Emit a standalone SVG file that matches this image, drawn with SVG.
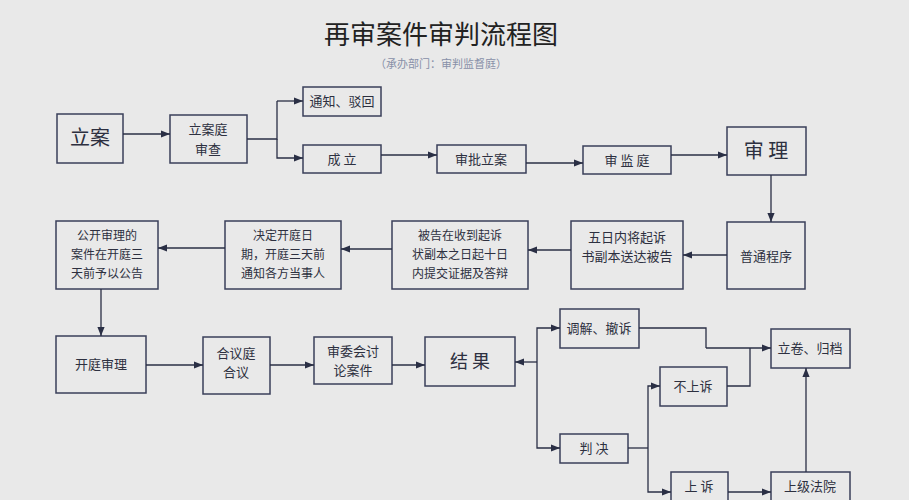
<svg xmlns="http://www.w3.org/2000/svg" width="909" height="500" viewBox="0 0 909 500">
<defs>
<marker id="a" viewBox="0 0 10 10" refX="10" refY="5" markerWidth="7" markerHeight="7" orient="auto"><path d="M0,1 L10,5 L0,9 z" fill="#2a2f45"/></marker>
<style>
.b{fill:#e9e9e9;stroke:#3a3f5a;stroke-width:1.5}
text{font-family:"Noto Sans CJK SC","Liberation Serif",serif;fill:#2d3040;text-anchor:middle;font-size:13px}
.s{font-size:12px}
.l{fill:none;stroke:#2a2f45;stroke-width:1.3;marker-end:url(#a)}
.n{fill:none;stroke:#2a2f45;stroke-width:1.3}
</style>
</defs>
<rect width="909" height="500" fill="#e9e9e9"/>
<text x="441" y="44" style="font-size:26px;fill:#222">再审案件审判流程图</text>
<text x="441" y="68" style="font-size:11px;fill:#8890a8">（承办部门：审判监督庭）</text>
<g id="n1"><rect class="b" x="57" y="114" width="66" height="49"/><text x="90" y="145" style="font-size:20px">立案</text></g>
<g id="n2"><rect class="b" x="170" y="115" width="77" height="48"/><text x="208" y="134">立案庭</text><text x="208" y="154">审查</text></g>
<g id="n3"><rect class="b" x="303" y="87" width="78" height="29"/><text x="342" y="106">通知、驳回</text></g>
<g id="n4"><rect class="b" x="303" y="145" width="78" height="28"/><text x="342" y="164">成 立</text></g>
<g id="n5"><rect class="b" x="437" y="145" width="89" height="28"/><text x="481" y="164">审批立案</text></g>
<g id="n6"><rect class="b" x="583" y="146" width="88" height="28"/><text x="627" y="165">审 监 庭</text></g>
<g id="n7"><rect class="b" x="727" y="127" width="79" height="48"/><text x="766" y="158" style="font-size:20px">审 理</text></g>
<g id="n8"><rect class="b" x="727" y="222" width="78" height="67"/><text x="766" y="261">普通程序</text></g>
<g id="n9"><rect class="b" x="571" y="221" width="112" height="68"/><text x="627" y="242">五日内将起诉</text><text x="627" y="261">书副本送达被告</text></g>
<g id="n10"><rect class="b" x="392" y="221" width="136" height="68"/><text class="s" x="460" y="240">被告在收到起诉</text><text class="s" x="460" y="259">状副本之日起十日</text><text class="s" x="460" y="278">内提交证据及答辩</text></g>
<g id="n11"><rect class="b" x="225" y="221" width="116" height="68"/><text class="s" x="283" y="240">决定开庭日</text><text class="s" x="283" y="259">期，开庭三天前</text><text class="s" x="283" y="278">通知各方当事人</text></g>
<g id="n12"><rect class="b" x="56" y="221" width="102" height="68"/><text class="s" x="107" y="240">公开审理的</text><text class="s" x="107" y="259">案件在开庭三</text><text class="s" x="107" y="278">天前予以公告</text></g>
<g id="n13"><rect class="b" x="56" y="336" width="90" height="57"/><text x="101" y="369">开庭审理</text></g>
<g id="n14"><rect class="b" x="203" y="337" width="67" height="57"/><text x="236" y="358">合议庭</text><text x="236" y="377">合议</text></g>
<g id="n15"><rect class="b" x="314" y="337" width="78" height="47"/><text x="353" y="356">审委会讨</text><text x="353" y="375">论案件</text></g>
<g id="n16"><rect class="b" x="425" y="337" width="90" height="49"/><text x="470" y="368" style="font-size:18px">结 果</text></g>
<g id="n17"><rect class="b" x="560" y="309" width="79" height="39"/><text x="599" y="333">调解、撤诉</text></g>
<g id="n18"><rect class="b" x="560" y="434" width="68" height="29"/><text x="594" y="453">判 决</text></g>
<g id="n19"><rect class="b" x="660" y="367" width="67" height="39"/><text x="693" y="391">不上诉</text></g>
<g id="n20"><rect class="b" x="671" y="472" width="57" height="30"/><text x="699" y="491">上 诉</text></g>
<g id="n21"><rect class="b" x="771" y="329" width="79" height="39"/><text x="810" y="353">立卷、归档</text></g>
<g id="n22"><rect class="b" x="771" y="472" width="79" height="30"/><text x="810" y="491">上级法院</text></g>
<g id="connectors">
<path class="l" d="M123,134 H170"/>
<path class="n" d="M247,139 H277 V101"/>
<path class="l" d="M277,101 H303"/>
<path class="l" d="M277,139 V158 H303"/>
<path class="l" d="M381,155 H437"/>
<path class="l" d="M526,163 H583"/>
<path class="l" d="M671,155 H727"/>
<path class="l" d="M771,175 V222"/>
<path class="l" d="M727,255 H683"/>
<path class="l" d="M571,250 H528"/>
<path class="l" d="M392,249 H341"/>
<path class="l" d="M225,248 H158"/>
<path class="l" d="M101,289 V336"/>
<path class="l" d="M146,365 H203"/>
<path class="l" d="M270,365 H314"/>
<path class="l" d="M392,365 H425"/>
<path class="l" d="M537,362 H515"/>
<path class="l" d="M537,362 V328 H560"/>
<path class="l" d="M537,362 V448 H560"/>
<path class="n" d="M628,448 H648"/>
<path class="l" d="M648,448 V386 H660"/>
<path class="l" d="M648,448 V492 H671"/>
<path class="n" d="M639,328 H706 V348"/>
<path class="l" d="M706,348 H771"/>
<path class="n" d="M727,386 H750 V348"/>
<path class="l" d="M728,492 H771"/>
<path class="l" d="M806,472 V368"/>
</g>
</svg>
